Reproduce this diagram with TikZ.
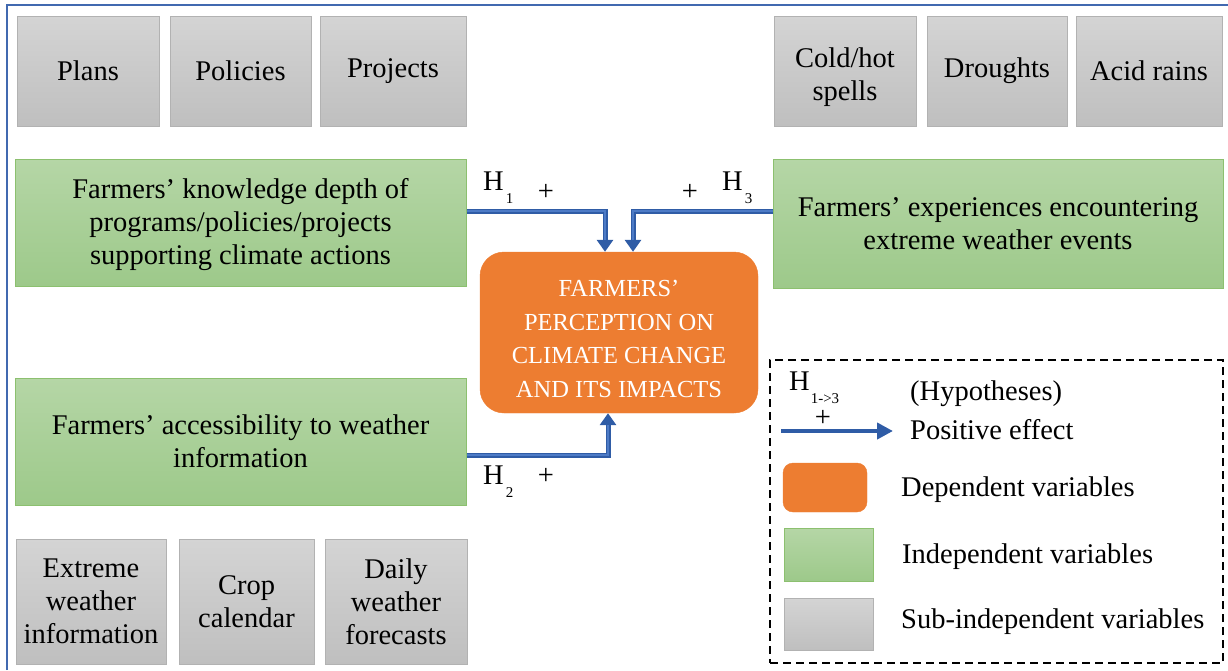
\documentclass[tikz,border=0pt]{standalone}
\usepackage{fontspec}
\setmainfont{Liberation Serif}
\usetikzlibrary{arrows.meta}
\definecolor{graytop}{HTML}{D4D4D4}
\definecolor{graybot}{HTML}{BFBFBF}
\definecolor{graybd}{HTML}{B2B2B2}
\definecolor{greentop}{HTML}{B5D6A6}
\definecolor{greenbot}{HTML}{9DC98A}
\definecolor{greenbd}{HTML}{8CC06F}
\definecolor{deporange}{HTML}{ED7D31}
\definecolor{arrowblue}{HTML}{2F5CA6}
\definecolor{arrowlight}{HTML}{4D7BC6}
\definecolor{framblue}{HTML}{4169B0}
\begin{document}
\begin{tikzpicture}[x=1pt,y=-1pt,
  txt/.style={font=\fontsize{28.5}{33}\selectfont, align=center, text=black},
  subbox/.style={draw=graybd, top color=graytop, bottom color=graybot, line width=1pt, inner sep=0pt, txt},
  indep/.style={draw=greenbd, top color=greentop, bottom color=greenbot, line width=1pt, inner sep=0pt, txt},
  depbox/.style={fill=deporange, draw=deporange, rounded corners=24pt, inner sep=0pt, text=white, font=\fontsize{24.5}{33.5}\selectfont, align=center},
  hyp/.style={draw=arrowblue, line width=5pt, -{Triangle[width=16pt,length=12pt]}},
  hypin/.style={draw=arrowlight, line width=1.4pt, shorten >=12pt},
  lbl/.style={inner sep=0pt, font=\fontsize{28.5}{33}\selectfont},
]
\useasboundingbox (0,0) rectangle (1228,670);
% frame
\coordinate (fa) at (7,670);
\coordinate (fb) at (7,5);
\coordinate (fc) at (1228,5);
\draw[framblue, line width=2pt] (fa) -- (fb) -- (fc);

% top sub-independent boxes
\node[subbox, minimum width=142pt, minimum height=110pt] (plans) at (88,71) {Plans};
\node[subbox, minimum width=141pt, minimum height=110pt] (policies) at (240.5,71) {Policies};
\node[subbox, minimum width=146pt, minimum height=110pt] (projects) at (393,71) {Projects};
\node[subbox, minimum width=142pt, minimum height=110pt] (cold) at (845,71) {\rule{0pt}{33pt}Cold/hot\\spells};
\node[subbox, minimum width=140pt, minimum height=110pt] (drought) at (997,71) {Droughts};
\node[subbox, minimum width=146pt, minimum height=110pt] (acid) at (1149,71) {Acid rains};

% bottom sub-independent boxes
\node[subbox, minimum width=150pt, minimum height=125pt] (extreme) at (91,601.5) {Extreme\\weather\\information};
\node[subbox, minimum width=135pt, minimum height=125pt] (crop) at (246.5,601.5) {Crop\\calendar};
\node[subbox, minimum width=142pt, minimum height=125pt] (daily) at (396,601.5) {Daily\\weather\\forecasts};

% independent variables
\node[indep, minimum width=451pt, minimum height=127pt] (g1) at (240.5,222.5) {\rule{0pt}{24pt}Farmers’ knowledge depth of\\programs/policies/projects\\supporting climate actions};
\node[indep, minimum width=450pt, minimum height=129pt] (g3) at (998,223.5) {Farmers’ experiences encountering\\extreme weather events};
\node[indep, minimum width=451pt, minimum height=127pt] (g2) at (240.5,441.5) {Farmers’ accessibility to weather\\information};

% dependent variable
\node[depbox, minimum width=278pt, minimum height=161pt] (dep) at (619,332.5) {\rule{0pt}{29pt}FARMERS’\\PERCEPTION ON\\CLIMATE CHANGE\\AND ITS IMPACTS};

% hypotheses arrows
\draw[hyp] ([yshift=11.5pt]g1.east) -| ([xshift=-14pt]dep.north);
\draw[hypin] ([yshift=11.5pt]g1.east) -| ([xshift=-14pt]dep.north);
\draw[hyp] ([yshift=12.5pt]g3.west) -| ([xshift=14pt]dep.north);
\draw[hypin] ([yshift=12.5pt]g3.west) -| ([xshift=14pt]dep.north);
\draw[hyp] ([yshift=-13.5pt]g2.east) -| ([xshift=-11pt]dep.south);
\draw[hypin] ([yshift=-13.5pt]g2.east) -| ([xshift=-11pt]dep.south);

% labels
\node[lbl, anchor=base west] (h1) at (483,190) {H\kern2pt\raisebox{-13pt}{\fontsize{15}{15}\selectfont 1}};
\node[lbl] (p1) at (546,192) {+};
\node[lbl] (p3) at (690,192) {+};
\node[lbl, anchor=base west] (h3) at (722,190) {H\kern2pt\raisebox{-13pt}{\fontsize{15}{15}\selectfont 3}};
\node[lbl, anchor=base west] (h2) at (483,484) {H\kern2pt\raisebox{-13pt}{\fontsize{15}{15}\selectfont 2}};
\node[lbl] (p2) at (546,476) {+};

% legend
\node[draw=black, dashed, dash pattern=on 8pt off 5pt, line width=2pt, minimum width=453pt, minimum height=303pt, inner sep=0pt] (legend) at (996.5,511.5) {};
\node[lbl, anchor=base west] (lh) at (789,390) {H\kern1pt\raisebox{-13pt}{\fontsize{15}{15}\selectfont 1->3}};
\node[lbl] (lp) at (823,418) {+};
\coordinate (la) at (781,431);
\coordinate (lb) at (893,431);
\draw[draw=arrowblue, line width=4.5pt, -{Triangle[width=16pt,length=16pt]}] (la) -- (lb);
\node[lbl, anchor=base west] (t1) at (910,400) {(Hypotheses)};
\node[lbl, anchor=base west] (t2) at (910,439) {Positive effect};
\node[fill=deporange, draw=deporange, rounded corners=10pt, minimum width=84pt, minimum height=49pt, inner sep=0pt] (lo) at (825,487.5) {};
\node[indep, minimum width=89pt, minimum height=53pt] (lg) at (828.5,554.5) {};
\node[subbox, minimum width=89pt, minimum height=52pt] (lgr) at (828.5,624) {};
\node[lbl, anchor=base west] (t3) at (901,496) {Dependent variables};
\node[lbl, anchor=base west] (t4) at (902,563) {Independent variables};
\node[lbl, anchor=base west] (t5) at (901,628) {Sub-independent variables};
\end{tikzpicture}
\end{document}
